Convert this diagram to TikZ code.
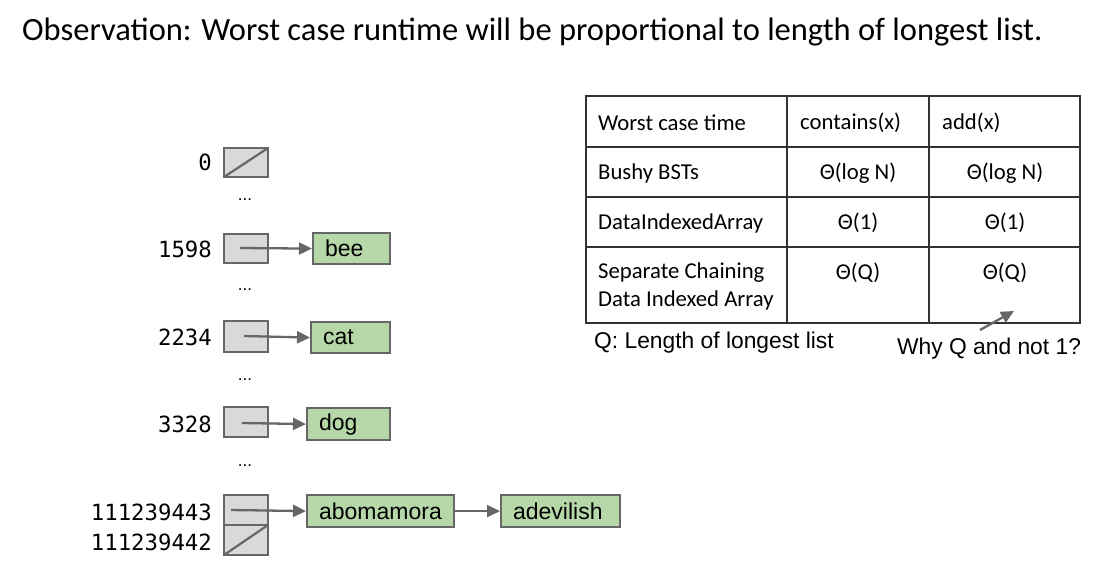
\documentclass[tikz,border=0pt]{standalone}
\usepackage{fontspec}
\setmainfont{Carlito}
\newfontfamily\arialf{Liberation Sans}
\newfontfamily\monof{DejaVu Sans Mono}
\usetikzlibrary{arrows.meta}
\definecolor{bordergray}{HTML}{666666}
\definecolor{cellgray}{HTML}{D9D9D9}
\definecolor{cellgreen}{HTML}{B6D7A8}
\begin{document}
\begin{tikzpicture}[x=1pt,y=-1pt,
  bucket/.style={draw=bordergray,fill=cellgray,line width=2.2pt},
  item/.style={draw=bordergray,fill=cellgreen,line width=2.2pt,inner xsep=12pt,inner ysep=0pt,align=left,font=\arialf\fontsize{23}{25}\selectfont,anchor=north west},
  idx/.style={anchor=east,font=\monof\fontsize{22.3}{24}\selectfont,inner sep=0pt},
  dots/.style={font=\arialf\fontsize{17}{18}\selectfont,inner sep=0pt},
  ptr/.style={draw=bordergray,line width=2.3pt,-{Triangle[length=13pt,width=12pt]}},
  tline/.style={draw=black!80,line width=1.4pt},
  ttext/.style={font=\fontsize{22.7}{26}\selectfont,inner sep=0pt},
  note/.style={font=\arialf\fontsize{22.8}{26}\selectfont,inner sep=0pt,anchor=west}
]
\useasboundingbox (0,0) rectangle (1093,561);
% title
\node[anchor=west,inner sep=0pt,font=\fontsize{32.5}{36}\selectfont] (title) at (22,32) {Observation: Worst case runtime will be proportional to length of longest list.};
% buckets
\draw[bucket] (224,148) rectangle (268,177);
\draw[bordergray,line width=2.2pt] (224,177) -- (268,148);
\draw[bucket] (224,234) rectangle (268,263);
\draw[bucket] (224,321) rectangle (268,352);
\draw[bucket] (224,407) rectangle (268,437);
\draw[bucket] (224,495) rectangle (268,525);
\draw[bucket] (224,525) rectangle (268,555);
\draw[bordergray,line width=2.2pt] (224,555) -- (268,525);
\coordinate (b1598) at (240,248);
\coordinate (b2234) at (244,336);
\coordinate (b3328) at (242,423);
\coordinate (b443) at (231,510);
% index labels
\node[idx] (i0) at (212,162) {0};
\node[idx] (i1598) at (212,249) {1598};
\node[idx] (i2234) at (212,337) {2234};
\node[idx] (i3328) at (212,424) {3328};
\node[idx] (i443) at (212,512) {111239443};
\node[idx] (i442) at (212,542) {111239442};
% dots
\node[dots] (d1) at (245,200) {...};
\node[dots] (d2) at (245,290) {...};
\node[dots] (d3) at (245,380) {...};
\node[dots] (d4) at (245,466) {...};
% items
\node[item,text width=53pt,minimum height=31pt] (bee) at (312,232) {bee};
\node[item,text width=55pt,minimum height=31pt] (cat) at (310,321) {cat};
\node[item,text width=59pt,minimum height=32pt] (dog) at (306,407) {dog};
\node[item,text width=123pt,minimum height=32pt] (abo) at (306,494) {abomamora};
\node[item,text width=95pt,minimum height=32pt] (adev) at (500,494) {adevilish};
% pointers
\draw[ptr] (b1598) -- (bee.west);
\draw[ptr] (b2234) -- (cat.west);
\draw[ptr] (b3328) -- (dog.west);
\draw[ptr] (b443) -- (abo.west);
\draw[ptr] (abo.east) -- (adev.west);
% table
\draw[tline] (586,96) rectangle (1080,323);
\draw[tline] (586,147) -- (1080,147);
\draw[tline] (586,197) -- (1080,197);
\draw[tline] (586,247) -- (1080,247);
\draw[tline] (787,96) -- (787,323);
\draw[tline] (929,96) -- (929,323);
\node[ttext,anchor=west] (h1) at (598,123) {Worst case time};
\node[ttext,anchor=west] (h2) at (800,123) {contains(x)};
\node[ttext,anchor=west] (h3) at (942,123) {add(x)};
\node[ttext,anchor=west] (r1) at (598,173) {Bushy BSTs};
\node[ttext] (r1a) at (858,173) {Θ(log N)};
\node[ttext] (r1b) at (1005,173) {Θ(log N)};
\node[ttext,anchor=west] (r2) at (598,223) {DataIndexedArray};
\node[ttext] (r2a) at (858,223) {Θ(1)};
\node[ttext] (r2b) at (1005,223) {Θ(1)};
\node[ttext,anchor=west] (r3) at (598,273) {Separate Chaining};
\node[ttext,anchor=west] (r3l) at (598,300) {Data Indexed Array};
\node[ttext] (r3a) at (858,273) {Θ(Q)};
\node[ttext] (r3b) at (1005,273) {Θ(Q)};
\node[note] (qnote) at (594,343) {Q: Length of longest list};
\node[note] (why) at (897,349) {Why Q and not 1?};
\coordinate (wq) at (980,330);
\coordinate (wt) at (1014,311);
\draw[ptr] (wq) -- (wt);
\end{tikzpicture}
\end{document}
